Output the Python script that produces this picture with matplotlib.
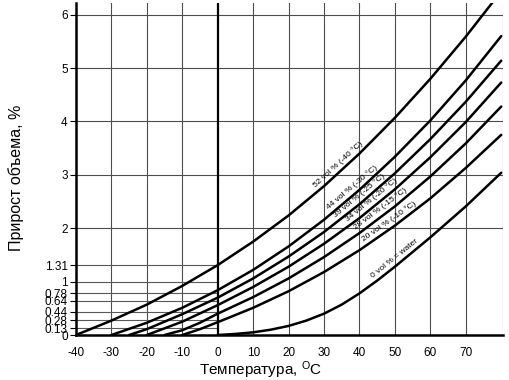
import numpy as np
import matplotlib.pyplot as plt

plt.rcParams['font.family'] = ['Liberation Sans', 'DejaVu Sans']
plt.rcParams['mathtext.fontset'] = 'custom'
plt.rcParams['mathtext.rm'] = 'Liberation Sans'

# кривые: температура (°C) и прирост объема (%)
t_52 = [-40, -30, -20, -10, 0, 10, 20, 30, 40, 50, 60, 70, 80]
v_52 = [0, 0.27, 0.57, 0.92, 1.31, 1.75, 2.24, 2.79, 3.40, 4.07, 4.80, 5.59, 6.44]
t_44 = [-30, -20, -10, 0, 10, 20, 30, 40, 50, 60, 70, 80]
v_44 = [0, 0.23, 0.51, 0.84, 1.22, 1.66, 2.16, 2.72, 3.34, 4.02, 4.77, 5.6]
t_39 = [-25, -20, -10, 0, 10, 20, 30, 40, 50, 60, 70, 80]
v_39 = [0, 0.11, 0.39, 0.70, 1.06, 1.47, 1.93, 2.45, 3.03, 3.67, 4.37, 5.14]
t_34 = [-20, -10, 0, 10, 20, 30, 40, 50, 60, 70, 80]
v_34 = [0, 0.25, 0.56, 0.90, 1.28, 1.71, 2.19, 2.73, 3.33, 3.99, 4.73]
t_28 = [-15, -10, -5, 0, 10, 20, 30, 40, 50, 60, 70, 80]
v_28 = [0, 0.09, 0.23, 0.40, 0.71, 1.06, 1.46, 1.91, 2.41, 2.97, 3.59, 4.28]
t_20 = [-10, -5, 0, 10, 20, 30, 40, 50, 60, 70, 80]
v_20 = [0, 0.11, 0.24, 0.51, 0.82, 1.18, 1.59, 2.05, 2.56, 3.13, 3.75]
t_w = [0, 5, 10, 15, 20, 25, 30, 35, 40, 45, 50, 60, 70, 80]
v_w = [0, 0.02, 0.05, 0.1, 0.17, 0.27, 0.4, 0.57, 0.78, 1.02, 1.28, 1.83, 2.41, 3.04]

labels = ['52 vol % (-40 °C)', '44 vol % (-30 °C)', '39 vol % (-25 °C)',
          '34 vol % (-20 °C)', '28 vol % (-15 °C)', '20 vol % (-10 °C)',
          '0 vol % = water']
label_t = [34, 38, 40, 43.5, 46, 48.5, 50]

small_ticks = [0.13, 0.28, 0.44, 0.64, 0.78, 1, 1.31]
big_ticks = [2, 3, 4, 5, 6]
x_ticks = [-40, -30, -20, -10, 0, 10, 20, 30, 40, 50, 60, 70]

curves = [(t_52, v_52), (t_44, v_44), (t_39, v_39), (t_34, v_34),
          (t_28, v_28), (t_20, v_20), (t_w, v_w)]

fig = plt.figure(figsize=(5.09, 3.80), dpi=100)
ax = fig.add_axes([76 / 509, 45 / 380, 427 / 509, 332 / 380])
ax.set_xlim(-40, 80.5)
ax.set_ylim(0, 6.22)

# сетка
for t in x_ticks[1:]:
    if t == 0:
        ax.axvline(0, color='black', lw=1.6, zorder=2)
    else:
        ax.axvline(t, color='0.3', lw=0.8, zorder=1)
ax.axvline(80.5, color='0.45', lw=0.8, zorder=1)
for v in big_ticks:
    ax.axhline(v, color='0.3', lw=0.8, zorder=1)
for v in small_ticks:
    ax.plot([-40, 0], [v, v], color='0.35', lw=0.8, zorder=1)

for t, v in curves:
    ax.plot(t, v, color='black', lw=1.8, zorder=3, solid_capstyle='round',
            solid_joinstyle='round')

# подписи вдоль кривых
px_t = 427 / 120.5
px_v = 332 / 6.22
for s, lt, (t, v) in zip(labels, label_t, curves):
    y0 = np.interp(lt, t, v)
    k = (np.interp(lt + 2, t, v) - np.interp(lt - 2, t, v)) / 4
    ang = np.degrees(np.arctan(k * px_v / px_t))
    off = 6.5 / np.cos(np.radians(ang)) / px_v
    ax.text(lt, y0 + off, s, rotation=ang, fontsize=6, ha='center', va='center',
            rotation_mode='anchor', zorder=4)

ax.set_xticks(x_ticks)
ax.set_xticklabels([str(t) for t in x_ticks], fontsize=8.5)
yt = [0] + small_ticks + big_ticks
ax.set_yticks(yt)
ax.set_yticklabels(['0', '0.13', '0.28', '0.44', '0.64', '0.78', '1', '1.31',
                    '2', '3', '4', '5', '6'], fontsize=8.5)
ax.tick_params(axis='x', length=0, pad=9)
ax.tick_params(axis='y', length=4, width=0.8, pad=2)

ax.spines['top'].set_visible(False)
ax.spines['right'].set_visible(False)
ax.spines['left'].set_linewidth(1.8)
ax.spines['bottom'].set_linewidth(1.8)

fig.text(16 / 509, 1 - 178 / 380, 'Прирост объема, %', rotation=90,
         fontsize=11.5, ha='center', va='center')
fig.text(261 / 509, 1 - 370 / 380, 'Температура, $\\mathrm{^{O}}$C',
         fontsize=11, ha='center', va='center')

fig.savefig('out.png', dpi=100)
